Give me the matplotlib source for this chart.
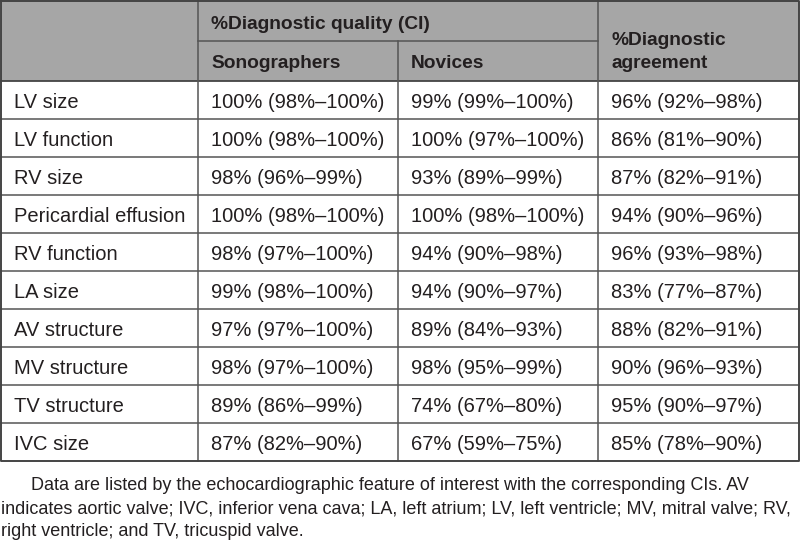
import matplotlib
matplotlib.use("Agg")
import matplotlib.pyplot as plt
from matplotlib import font_manager

features = ["LV size", "LV function", "RV size", "Pericardial effusion", "RV function",
            "LA size", "AV structure", "MV structure", "TV structure", "IVC size"]
sonographers = ["100% (98%\u2013100%)", "100% (98%\u2013100%)", "98% (96%\u201399%)",
                "100% (98%\u2013100%)", "98% (97%\u2013100%)", "99% (98%\u2013100%)",
                "97% (97%\u2013100%)", "98% (97%\u2013100%)", "89% (86%\u201399%)",
                "87% (82%\u201390%)"]
novices = ["99% (99%\u2013100%)", "100% (97%\u2013100%)", "93% (89%\u201399%)",
           "100% (98%\u2013100%)", "94% (90%\u201398%)", "94% (90%\u201397%)",
           "89% (84%\u201393%)", "98% (95%\u201399%)", "74% (67%\u201380%)",
           "67% (59%\u201375%)"]
agreement = ["96% (92%\u201398%)", "86% (81%\u201390%)", "87% (82%\u201391%)",
             "94% (90%\u201396%)", "96% (93%\u201398%)", "83% (77%\u201387%)",
             "88% (82%\u201391%)", "90% (96%\u201393%)", "95% (90%\u201397%)",
             "85% (78%\u201390%)"]
header_top = "%Diagnostic quality (CI)"
header_sub = ["Sonographers", "Novices"]
header_right = ["%Diagnostic", "agreement"]
note_lines = [
    "Data are listed by the echocardiographic feature of interest with the corresponding CIs. AV",
    "indicates aortic valve; IVC, inferior vena cava; LA, left atrium; LV, left ventricle; MV, mitral valve; RV,",
    "right ventricle; and TV, tricuspid valve.",
]

names = {f.name for f in font_manager.fontManager.ttflist}
main_font = "Liberation Sans" if "Liberation Sans" in names else "DejaVu Sans"
narrow_font = "Liberation Sans Narrow" if "Liberation Sans Narrow" in names else main_font
note_size = 14.3 if narrow_font != main_font else 13.0

fig = plt.figure(figsize=(8, 5.44), dpi=100)
ax = fig.add_axes([0, 0, 1, 1])
ax.set_xlim(0, 800)
ax.set_ylim(544, 0)
ax.axis("off")

col_x = [1, 198, 398, 598, 799]
head_mid = 41
head_bot = 81
row_h = 38
n = len(features)
bottom = head_bot + n * row_h
txt = "#231f20"
line_c = "#555555"

ax.fill_between([col_x[0], col_x[-1]], 0, head_bot, color="#a6a6a6", lw=0)

# grid lines
for i in range(1, n):
    y = head_bot + i * row_h
    ax.plot([col_x[0], col_x[-1]], [y, y], color=line_c, lw=1.1)
ax.plot([col_x[1], col_x[3]], [head_mid, head_mid], color=line_c, lw=1.1)
ax.plot([col_x[0], col_x[-1]], [head_bot, head_bot], color="#444444", lw=1.3)
ax.plot([col_x[1], col_x[1]], [0, bottom], color=line_c, lw=1.1)
ax.plot([col_x[2], col_x[2]], [head_mid, bottom], color=line_c, lw=1.1)
ax.plot([col_x[3], col_x[3]], [0, bottom], color=line_c, lw=1.1)
ax.plot([col_x[0], col_x[-1], col_x[-1], col_x[0], col_x[0]],
        [0.5, 0.5, bottom, bottom, 0.5], color="#444444", lw=1.4)

fs = 14.5
hfs = 13.8
pad = 13
ax.text(col_x[1] + pad, 29, header_top, fontsize=hfs, fontweight="bold",
        family=main_font, color=txt, va="baseline")
for j, s in enumerate(header_sub):
    ax.text(col_x[1 + j] + pad, 68, s, fontsize=hfs, fontweight="bold",
            family=main_font, color=txt, va="baseline")
for k, s in enumerate(header_right):
    ax.text(col_x[3] + pad, 45 + 23 * k, s, fontsize=hfs, fontweight="bold",
            family=main_font, color=txt, va="baseline")

for i in range(n):
    yb = head_bot + i * row_h + 26.5
    for j, col in enumerate([features, sonographers, novices, agreement]):
        ax.text(col_x[j] + pad, yb, col[i], fontsize=fs, family=main_font,
                color=txt, va="baseline")

note_x = [31, 1, 1]
note_y = [486, 509, 532]
for x, y, s in zip(note_x, note_y, note_lines):
    ax.text(x, y, s, fontsize=note_size, family=narrow_font, color=txt, va="center")

fig.savefig("out.png", dpi=100)
